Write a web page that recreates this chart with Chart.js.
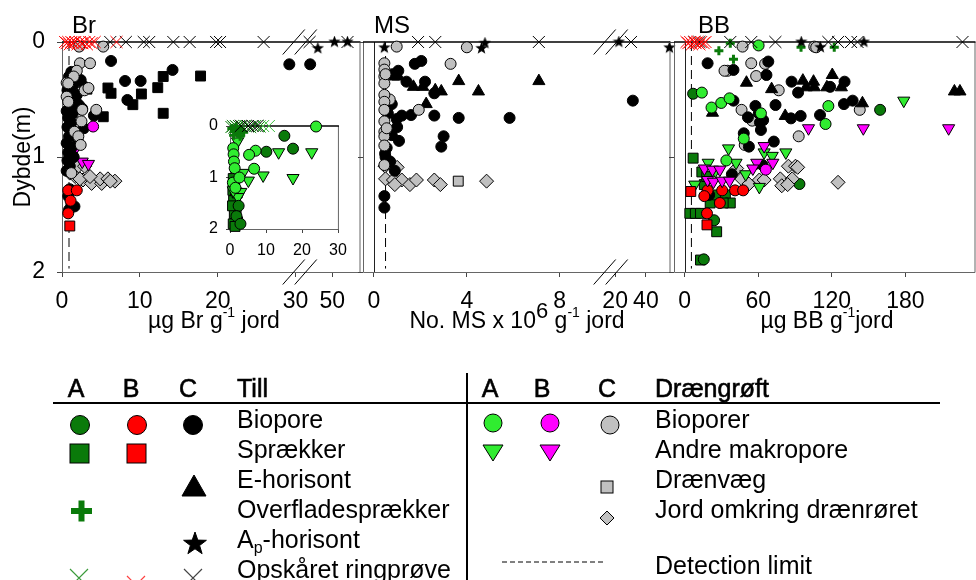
<!DOCTYPE html>
<html lang="da">
<head>
<meta charset="UTF-8">
<title>Br, MS og BB i makroporer</title>
<script src="https://cdn.jsdelivr.net/npm/chart.js@4.4.1/dist/chart.umd.min.js"></script>
<style>
  body { margin: 0; width: 976px; height: 580px; overflow: hidden; background: #fff; position: relative;
         font-family: 'Liberation Sans', Arial, sans-serif; }
  canvas { position: absolute; }
  #overlay { position: absolute; left: 0; top: 0; pointer-events: none; }
  #overlay text { font-family: 'Liberation Sans', Arial, sans-serif; fill: #000; }
  .ax { font-size: 23px; }
  .ttl { font-size: 24px; }
  .lg { font-size: 25px; }
  .hd { font-size: 25px; stroke: #000; stroke-width: 0.6px; }
</style>
</head>
<body>
<canvas id="brChart" width="370" height="340" style="left:0;top:0"></canvas>
<canvas id="msChart" width="350" height="340" style="left:330px;top:0"></canvas>
<canvas id="bbChart" width="345" height="340" style="left:640px;top:0"></canvas>
<canvas id="insetChart" width="175" height="165" style="left:180px;top:100px"></canvas>

<svg id="overlay" width="976" height="580">
  <!-- panel titles and axis titles -->
  <text class="ttl" x="72" y="33">Br</text>
  <text class="ttl" x="374" y="33">MS</text>
  <text class="ttl" x="698" y="33">BB</text>
  <text class="ax" transform="translate(30,157) rotate(-90)" text-anchor="middle">Dybde(m)</text>
  <text class="ax" x="214" y="328" text-anchor="middle">µg Br g<tspan dy="-11" font-size="14">-1</tspan><tspan dy="11"> jord</tspan></text>
  <text class="ax" x="517" y="328" text-anchor="middle">No. MS x 10<tspan dy="-10" font-size="22">6</tspan><tspan dy="10"> g</tspan><tspan dy="-11" font-size="14">-1</tspan><tspan dy="11"> jord</tspan></text>
  <text class="ax" x="827" y="328" text-anchor="middle">µg BB g<tspan dy="-11" font-size="14">-1</tspan><tspan dy="11">jord</tspan></text>

  <!-- legend table -->
  <text class="hd" x="76" y="397" text-anchor="middle">A</text>
  <text class="hd" x="131" y="397" text-anchor="middle">B</text>
  <text class="hd" x="188" y="397" text-anchor="middle">C</text>
  <text class="hd" x="237" y="397">Till</text>
  <text class="hd" x="490" y="397" text-anchor="middle">A</text>
  <text class="hd" x="542" y="397" text-anchor="middle">B</text>
  <text class="hd" x="607" y="397" text-anchor="middle">C</text>
  <text class="hd" x="655" y="397">Drængrøft</text>
  <line x1="53" y1="403" x2="940" y2="403" stroke="#000" stroke-width="2"/>
  <line x1="467" y1="373" x2="467" y2="580" stroke="#000" stroke-width="2"/>

  <text class="lg" x="237" y="428">Biopore</text>
  <text class="lg" x="237" y="458">Sprækker</text>
  <text class="lg" x="237" y="488">E-horisont</text>
  <text class="lg" x="237" y="518">Overfladesprækker</text>
  <text class="lg" x="237" y="548">A<tspan dy="5" font-size="16">p</tspan><tspan dy="-5">-horisont</tspan></text>
  <text class="lg" x="237" y="578">Opskåret ringprøve</text>

  <text class="lg" x="655" y="428">Bioporer</text>
  <text class="lg" x="655" y="458">Andre makropore</text>
  <text class="lg" x="655" y="488">Drænvæg</text>
  <text class="lg" x="655" y="518">Jord omkring drænrøret</text>
  <text class="lg" x="655" y="574">Detection limit</text>

  <g stroke="#000" stroke-width="1">
    <circle cx="80" cy="425" r="9.5" fill="#0a7a0a"/>
    <circle cx="137" cy="425" r="9.5" fill="#ff0000"/>
    <circle cx="193" cy="425" r="9.5" fill="#000"/>
    <rect x="70" y="444" width="19" height="19" fill="#0a7a0a"/>
    <rect x="127" y="444" width="19" height="19" fill="#ff0000"/>
    <polygon points="194,475 206,496 182,496" fill="#000"/>
    <polygon points="195,532 197.8,540.1 206.4,540.3 199.6,545.5 202.1,553.7 195,548.8 187.9,553.7 190.4,545.5 183.6,540.3 192.2,540.1" fill="#000"/>
    <circle cx="493" cy="423" r="9" fill="#30ec30"/>
    <circle cx="550" cy="423" r="9" fill="#ff00ff"/>
    <circle cx="610" cy="425" r="9" fill="#c0c0c0"/>
    <polygon points="483,445 503,445 493,461" fill="#30ec30"/>
    <polygon points="540,445 560,445 550,461" fill="#ff00ff"/>
    <rect x="601" y="481" width="12" height="12" fill="#c0c0c0"/>
    <polygon points="607,511 614,518 607,525 600,518" fill="#c0c0c0"/>
  </g>
  <g fill="#0a7a0a">
    <rect x="71" y="508" width="21" height="6"/>
    <rect x="78.5" y="500.5" width="6" height="21"/>
  </g>
  <path d="M70,569 L88,587 M88,569 L70,587" stroke="#3a9a3a" stroke-width="1.2"/>
  <path d="M127,576 L145,594 M145,576 L127,594" stroke="#ff4040" stroke-width="1.2"/>
  <path d="M184,569 L202,587 M202,569 L184,587" stroke="#444" stroke-width="1.2"/>
  <line x1="502" y1="562" x2="603" y2="562" stroke="#000" stroke-width="1" stroke-dasharray="5,3"/>
</svg>

<script>
// ---- depth axis (m), shared by all panels ----
const depthTicks = [0, 1, 2];

// ---- Br panel (µg Br / g jord) ----
const brTicks = [0, 10, 20, 30, 50];
const brCrossB = [[0.4,0],[0.6,0.01],[0.8,0],[1.0,0.02],[1.2,0],[1.4,0.01],[1.7,0],[2.0,0.02],[2.3,0],[2.6,0.01],[2.9,0],[3.2,0.02],[3.5,0],[3.8,0.01],[4.2,0],[7.0,0]];
const brCrossC = [[6.2,0],[8.2,0],[10.5,0],[11.2,0],[14.3,0],[16.4,0],[19.8,0],[20.3,0],[25.9,0],[42.0,0],[55.4,0]];
const brStarC = [[44.9,0.055],[50.8,0],[55.4,0]];
const brBioporeB = [[0.8,1.29],[1.9,1.29],[0.8,1.49],[1.1,1.38]];
const brSprakkerB = [[1.0,1.6]];
const brBioporeC = [[6.3,0.165],[14.2,0.243],[8.1,0.339],[10.1,0.339],[8.4,0.504],[29.2,0.194],[42.2,0.194],
  [2.4,0.33],[2.9,0.39],[1.2,0.26],[0.9,0.30],[1.5,0.37],[0.7,0.42],[1.2,0.45],[0.8,0.50],[1.8,0.52],[1.0,0.56],
  [0.6,0.60],[1.4,0.62],[2.6,0.58],[4.1,0.64],[0.8,0.66],[1.2,0.70],[2.8,0.75],[0.7,0.74],[1.6,0.78],[0.9,0.82],
  [2.0,0.85],[0.6,0.88],[1.2,0.92],[0.8,0.96],[1.5,1.0],[0.7,1.03],[1.0,1.08],[0.6,1.12],[1.9,0.46],[2.2,0.55],
  [1.0,1.28],[0.8,1.34],[1.2,1.42],[1.6,1.43],[0.9,1.46]];
const brSprakkerC = [[17.8,0.296],[13.0,0.30],[12.3,0.397],[10.2,0.452],[5.9,0.40],[6.3,0.446],[9.1,0.545],[13.0,0.62],[5.3,0.65],[3.2,0.41]];
const brDrenBioporeB = [[4.0,0.735]];
const brMakroB = [[1.9,0.91],[2.6,1.04],[3.4,1.06]];
const brDrenBioporeC = [[2.2,0.04],[5.3,0.04],[2.3,0.185],[3.6,0.185],[1.9,0.25],[1.5,0.30],[0.6,0.354],[0.8,0.36],
  [2.9,0.42],[3.4,0.40],[0.6,0.475],[0.8,0.52],[2.6,0.59],[4.4,0.59],[2.5,0.69],[1.6,0.78],[2.1,0.82],[2.4,0.895],[1.2,1.14]];
const brJordC = [[1.0,1.14],[2.1,1.08],[2.9,1.08],[1.7,1.17],[2.7,1.20],[3.8,1.23],[5.1,1.23],[4.9,1.19],[5.9,1.19],
  [6.8,1.21],[2.3,1.19],[3.6,1.17],[6.2,1.21]];
const brDetection = 0.9;

// ---- Br, A-profile (inset) ----
const insetTicks = [0, 10, 20, 30];
const insetCrossA = [[0.4,0.02],[0.8,0],[1.2,0.03],[1.6,0],[2.0,0.02],[2.5,0],[3.3,0.01],[4.3,0],[5.6,0.02],[7.0,0],[8.2,0.01]];
const insetCrossA2 = [[9.2,0],[10.8,0]];
const insetCrossC = [[3.0,0],[5.0,0],[6.3,0],[7.6,0]];
const insetPlusA = [[0.5,0.05],[1.2,0.10],[1.8,0.04],[2.4,0.14],[3.0,0.08],[3.8,0.12],[1.0,0.18],[2.8,0.2]];
const insetBioporeA = [[15.1,0.19],[17.5,0.44],[10.1,0.50],[2.4,1.55],[1.8,1.75],[2.9,1.9]];
const insetSprakkerA = [[0.9,1.02],[1.3,1.12],[0.8,1.25],[1.5,1.35],[1.0,1.45],[1.7,1.6],[1.2,1.7],[2.1,1.86],[0.9,1.9],[1.4,1.95],[0.7,1.55],[2.0,1.3]];
const insetDrenBioporeA = [[23.9,0.01],[7.1,0.48],[5.3,0.56],[6.7,0.83],[0.9,0.43],[1.0,0.55],[1.1,0.69],[1.3,0.82],[0.8,1.1],[1.5,1.2],[2.6,1.0]];
const insetMakroA = [[13.5,0.51],[22.7,0.51],[9.2,0.96],[17.5,1.01],[2.1,0.30],[3.6,0.91],[5.1,1.06],[3.0,1.28],[1.2,1.15],[2.2,1.38],[0.9,1.25]];

// ---- MS panel (antal x 10^6 / g jord) ----
const msTicks = [0, 4, 8, 20, 40];
const msCrossC = [[1.9,0],[2.64,0],[7.1,0],[30.3,0]];
const msStarC = [[0.45,0.05],[4.63,0.055],[4.78,0.01],[22.4,0],[55.3,0.05]];
const msBioporeC = [[1.76,0.19],[2.04,0.165],[1.05,0.25],[0.8,0.28],[1.4,0.345],[2.2,0.345],[2.6,0.446],[0.77,0.54],
  [0.98,0.67],[1.2,0.64],[1.6,0.635],[2.6,0.64],[3.65,0.66],[5.84,0.66],[1.0,0.74],[0.77,0.81],[1.08,0.86],[3.0,0.82],
  [2.9,0.91],[0.48,0.97],[0.5,1.0],[0.7,1.04],[0.45,1.34],[0.45,1.44],[31.5,0.51],[0.6,0.62],[0.55,0.92],[0.9,1.12]];
const msEhorisontC = [[1.7,0.39],[2.1,0.39],[2.64,0.42],[2.9,0.43],[3.65,0.34],[4.5,0.43],[7.1,0.34],[2.25,0.54],[0.84,0.3],[1.05,0.3]];
const msDrenBioporeC = [[0.98,0.04],[4.0,0.046],[3.3,0.19],[1.93,0.59],[0.45,0.185],[0.45,0.24],[0.45,0.30],[0.45,0.36],
  [0.68,0.50],[0.45,0.46],[0.45,0.52],[0.45,0.59],[0.45,0.69],[0.45,0.78],[0.45,0.82],[0.45,0.90],[0.45,1.07],[0.5,0.28],[0.55,0.75]];
const msJordC = [[0.48,1.08],[1.0,1.09],[0.5,1.19],[0.84,1.2],[1.2,1.2],[0.9,1.24],[1.55,1.24],[1.83,1.2],[2.6,1.2],[2.86,1.24],[4.85,1.21]];
const msDrenvaegC = [[3.63,1.21]];
const msDetection = 0.5;

// ---- BB panel (µg BB / g jord) ----
const bbTicks = [0, 60, 120, 180];
const bbCrossB = [[1.5,0],[3,0.01],[4.5,0],[6,0.02],[7.5,0],[9,0.01],[10.5,0],[12,0.02],[13.5,0],[15.5,0.01],[17,0]];
const bbCrossC = [[8,0],[12,0],[37.2,0],[54.3,0],[74,0],[117.2,0],[125.1,0],[135.7,0],[141,0],[226.6,0]];
const bbStarC = [[95.1,0],[110.7,0.046],[146.2,0]];
const bbPlusA = [[27.9,0.075],[39.8,0.15],[94.9,0.046],[122,0.046],[37.2,0.01]];
const bbBioporeA = [[6.9,0.45],[159.4,0.59],[93.6,1.235],[24,1.55],[15.6,1.89]];
const bbSprakkerA = [[6.9,1.01],[16,1.24],[20.8,1.40],[26.6,1.33],[33.2,1.33],[37.2,1.40],[31.4,1.40],[4.2,1.49],
  [8.7,1.49],[12.9,1.49],[26.1,1.65],[12.9,1.896],[14,1.13],[18,1.17]];
const bbBioporeB = [[18.7,1.29],[16,1.34],[30.6,1.29],[28.7,1.40],[41.1,1.29],[47.7,1.29],[18.2,1.49]];
const bbSprakkerB = [[5,1.30],[18.2,1.59]];
const bbBioporeC = [[18.7,0.185],[39.8,0.243],[66.7,0.287],[68.2,0.17],[87.2,0.345],[92.5,0.44],[130.4,0.345],[118.6,0.39],
  [39.8,0.51],[57.7,0.556],[51.6,0.655],[61.4,0.70],[62.2,0.765],[74.1,0.548],[86.7,0.664],[94.6,0.643],[110.4,0.635],
  [129.9,0.54],[137,0.51],[48.2,0.794],[52.4,0.91],[72.7,0.866],[63.5,1.07],[38.5,1.15],[20,1.33],[60.5,0.62],[64,0.68]];
const bbEhorisontC = [[50.4,0.354],[70.9,0.41],[96.4,0.336],[105.1,0.345],[99.1,0.394],[105.7,0.394],[120.4,0.287],
  [127.8,0.394],[116,0.394],[22.7,0.615],[82,0.643],[145,0.533],[220,0.43],[224.5,0.43]];
const bbDrenBioporeA = [[60.3,0.03],[14,0.44],[21.9,0.57],[29.8,0.53],[36.6,0.49],[62.2,0.62],[114.9,0.713],[117.2,0.557],[48.2,0.84],[34,1.03]];
const bbMakroA = [[35.8,0.925],[64.8,0.96],[71.4,0.99],[82.5,0.96],[19.2,1.05],[41.9,1.05],[49.8,1.15],[60.9,1.26],[8.2,1.24],[178.7,0.51],[25,1.12]];
const bbDrenBioporeB = [[66.2,1.11]];
const bbMakroB = [[101,0.75],[145.7,0.75],[215.3,0.75],[64.8,0.905],[16.1,1.1],[22.7,1.11],[28.7,1.11],[58.8,1.05],
  [71.9,1.05],[55.6,1.10],[18.7,1.2],[23.5,1.215],[30.6,1.206],[36.6,1.206]];
const bbDrenBioporeC = [[47.2,0.04],[105.7,0.04],[107.3,0.046],[35,0.25],[54.3,0.185],[58.3,0.296],[65.6,0.19],[76.7,0.42],
  [46.4,0.59],[55.1,0.684],[93,0.82],[49,0.895],[142.8,0.59],[32.5,0.25]];
const bbJordC = [[42.4,1.10],[46.4,1.19],[52.4,1.235],[60.9,1.2],[64.8,1.2],[78,1.19],[79.2,1.25],[84.6,1.08],[90.4,1.08],
  [87.7,1.19],[84,1.24],[125.1,1.22],[92.2,1.09]];
const bbDetection = 5.5;

// ---- colours ----
const GREEN_DARK = '#0a7a0a', GREEN = '#30ec30', RED = '#ff0000', MAGENTA = '#ff00ff', GRAY = '#c0c0c0';
const FONT = "'Liberation Sans', Arial, sans-serif";
Chart.defaults.font.family = FONT;

// linear scale with a broken section: anchors are [value, fraction of axis length]
class BrokenScale extends Chart.LinearScale {
  buildTicks() {
    return this.options.tickValues.map(value => ({ value }));
  }
  getPixelForValue(value) {
    const a = this.options.anchors;
    let i = 1;
    while (i < a.length - 1 && value > a[i][0]) i++;
    const [v0, f0] = a[i - 1], [v1, f1] = a[i];
    return this.getPixelForDecimal(f0 + (value - v0) / (v1 - v0) * (f1 - f0));
  }
  getValueForPixel(pixel) {
    const a = this.options.anchors;
    const f = this.getDecimalForPixel(pixel);
    let i = 1;
    while (i < a.length - 1 && f > a[i][1]) i++;
    const [v0, f0] = a[i - 1], [v1, f1] = a[i];
    return v0 + (f - f0) / (f1 - f0) * (v1 - v0);
  }
}
BrokenScale.id = 'broken';
BrokenScale.defaults = {};
Chart.register(BrokenScale);

// filled five-point star used for the Ap-horisont points
const starImg = (() => {
  const c = document.createElement('canvas');
  c.width = c.height = 13;
  const g = c.getContext('2d');
  g.fillStyle = '#000';
  g.beginPath();
  for (let i = 0; i < 10; i++) {
    const r = i % 2 ? 2.7 : 6.5, a = -Math.PI / 2 + i * Math.PI / 5;
    g.lineTo(6.5 + r * Math.cos(a), 6.5 + r * Math.sin(a));
  }
  g.closePath();
  g.fill();
  return c;
})();

const MARKS = {
  circle: fill => ({ pointStyle: 'circle', pointRadius: 5.5, pointBackgroundColor: fill }),
  square: fill => ({ pointStyle: 'rect', pointRadius: 7, pointBackgroundColor: fill }),
  triUp: fill => ({ pointStyle: 'triangle', pointRadius: 7, pointBackgroundColor: fill }),
  triDown: fill => ({ pointStyle: 'triangle', pointRadius: 7, pointRotation: 180, pointBackgroundColor: fill }),
  diamond: fill => ({ pointStyle: 'rectRot', pointRadius: 7, pointBackgroundColor: fill }),
  cross: color => ({ pointStyle: 'crossRot', pointRadius: 8.5, pointBorderColor: color, pointBorderWidth: 1 }),
  plus: color => ({ pointStyle: 'cross', pointRadius: 4.5, pointBorderColor: color, pointBorderWidth: 3 }),
  star: () => ({ pointStyle: starImg, pointRadius: 6 })
};

function series(points, mark, color) {
  return Object.assign({
    data: points.map(([x, y]) => ({ x, y })),
    clip: false,
    pointBorderColor: '#000',
    pointBorderWidth: 1
  }, MARKS[mark](color));
}

function detectionLine(x) {
  return {
    data: [{ x, y: 0 }, { x, y: 1.97 }],
    showLine: true, clip: false, pointRadius: 0,
    borderColor: '#000', borderWidth: 1, borderDash: [9, 5]
  };
}

// box, depth-0 line, zero line and axis-break slashes
const panelFrame = {
  id: 'panelFrame',
  beforeDatasetsDraw(chart, args, opts) {
    const { ctx, chartArea: a, scales: { x } } = chart;
    ctx.save();
    ctx.strokeStyle = '#666';
    ctx.lineWidth = 1;
    ctx.beginPath();
    ctx.moveTo(a.left + 0.5, a.top);
    ctx.lineTo(a.left + 0.5, a.bottom + 0.5);
    ctx.lineTo(a.right - 0.5, a.bottom + 0.5);
    ctx.lineTo(a.right - 0.5, a.top);
    ctx.stroke();
    if (opts.zeroLine) {
      const px = Math.round(x.getPixelForValue(0)) + 0.5;
      ctx.strokeStyle = '#222';
      ctx.beginPath();
      ctx.moveTo(px, a.top);
      ctx.lineTo(px, a.bottom);
      ctx.stroke();
    }
    ctx.strokeStyle = '#000';
    ctx.lineWidth = 1.5;
    ctx.beginPath();
    ctx.moveTo(a.left, a.top);
    ctx.lineTo(a.right, a.top);
    ctx.stroke();
    ctx.restore();
  },
  afterDatasetsDraw(chart, args, opts) {
    if (!opts.breakAt) return;
    const { ctx, chartArea: a, scales: { x } } = chart;
    const [lo, hi] = opts.breakAt;
    const cx = (x.getPixelForValue(lo) + x.getPixelForValue(hi)) / 2;
    ctx.save();
    ctx.strokeStyle = '#000';
    ctx.lineWidth = 1;
    ctx.beginPath();
    [a.top, a.bottom].forEach(yy => {
      [-6, 6].forEach(dx => {
        ctx.moveTo(cx + dx - 11, yy + 12.5);
        ctx.lineTo(cx + dx + 11, yy - 12.5);
      });
    });
    ctx.stroke();
    ctx.restore();
  }
};

function tickStyle(size, padding, show) {
  return { display: show, autoSkip: false, maxRotation: 0, padding, color: '#000', font: { size }, callback: v => String(v) };
}
const gridStyle = len => ({ drawOnChartArea: false, tickLength: len, tickColor: '#444' });

function depthAxis(width, show, size, padding, len) {
  return {
    type: 'linear', reverse: true, min: 0, max: 2,
    afterBuildTicks: s => { s.ticks = depthTicks.map(value => ({ value })); },
    afterFit: s => { s.width = width; },
    grid: gridStyle(len), border: { display: false },
    ticks: tickStyle(size, padding, show)
  };
}

function valueAxis(height, min, max, ticks, anchors, size, padding, len) {
  const axis = {
    type: anchors ? 'broken' : 'linear', min, max,
    afterFit: s => { s.height = height; },
    grid: gridStyle(len), border: { display: false },
    ticks: tickStyle(size, padding, true)
  };
  if (anchors) Object.assign(axis, { anchors, tickValues: ticks });
  else axis.afterBuildTicks = s => { s.ticks = ticks.map(value => ({ value })); };
  return axis;
}

function panel(id, datasets, x, y, padding, frame) {
  return new Chart(document.getElementById(id), {
    type: 'scatter',
    data: { datasets },
    options: {
      responsive: false, animation: false, events: [],
      layout: { padding },
      plugins: { legend: { display: false }, tooltip: { enabled: false }, panelFrame: frame },
      scales: { x, y }
    },
    plugins: [panelFrame]
  });
}

// Br
panel('brChart', [
  series(brStarC, 'star'),
  series(brCrossB, 'cross', RED),
  series(brCrossC, 'cross', '#000'),
  series(brDrenBioporeB, 'circle', MAGENTA),
  series(brDrenBioporeC, 'circle', GRAY),
  series(brBioporeB, 'circle', RED),
  series(brSprakkerB, 'square', RED),
  series(brBioporeC, 'circle', '#000'),
  series(brSprakkerC, 'square', '#000'),
  series(brMakroB, 'triDown', MAGENTA),
  series(brJordC, 'diamond', GRAY),
  detectionLine(brDetection)
],
  valueAxis(68, 0, 60, brTicks, [[0, 0], [30, 0.7824], [40, 0.8106], [60, 1]], 23, 11, 5),
  depthAxis(62, true, 23, 12, 5),
  { top: 42, right: 7, left: 0, bottom: 0 },
  { zeroLine: false, breakAt: [30, 40] });

// Br inset, A-profile
panel('insetChart', [
  series(insetCrossC, 'cross', '#000'),
  series(insetCrossA2, 'cross', '#3fbf3f'),
  series(insetCrossA, 'cross', GREEN_DARK),
  series(insetPlusA, 'plus', GREEN_DARK),
  series(insetDrenBioporeA, 'circle', GREEN),
  series(insetBioporeA, 'circle', GREEN_DARK),
  series(insetMakroA, 'triDown', GREEN),
  series(insetSprakkerA, 'square', GREEN_DARK)
],
  valueAxis(36, 0, 30.25, insetTicks, null, 16, 8, 4),
  depthAxis(50, true, 16, 8, 4),
  { top: 26, right: 7, left: 0, bottom: 0 },
  { zeroLine: false });

// MS
panel('msChart', [
  series(msStarC, 'star'),
  series(msCrossC, 'cross', '#000'),
  series(msDrenBioporeC, 'circle', GRAY),
  series(msBioporeC, 'circle', '#000'),
  series(msEhorisontC, 'triUp', '#000'),
  series(msDrenvaegC, 'square', GRAY),
  series(msJordC, 'diamond', GRAY),
  detectionLine(msDetection)
],
  valueAxis(68, -0.47, 56, msTicks, [[-0.47, 0], [10, 0.791], [20, 0.820], [40, 0.920], [56, 1]], 23, 11, 5),
  depthAxis(33, false, 23, 12, 5),
  { top: 42, right: 6, left: 0, bottom: 0 },
  { zeroLine: true, breakAt: [10, 20] });

// BB
panel('bbChart', [
  series(bbStarC, 'star'),
  series(bbCrossB, 'cross', RED),
  series(bbCrossC, 'cross', '#000'),
  series(bbPlusA, 'plus', GREEN_DARK),
  series(bbDrenBioporeB, 'circle', MAGENTA),
  series(bbMakroB, 'triDown', MAGENTA),
  series(bbBioporeB, 'circle', RED),
  series(bbSprakkerB, 'square', RED),
  series(bbDrenBioporeA, 'circle', GREEN),
  series(bbMakroA, 'triDown', GREEN),
  series(bbBioporeC, 'circle', '#000'),
  series(bbEhorisontC, 'triUp', '#000'),
  series(bbDrenBioporeC, 'circle', GRAY),
  series(bbJordC, 'diamond', GRAY),
  series(bbBioporeA, 'circle', GREEN_DARK),
  series(bbSprakkerA, 'square', GREEN_DARK),
  detectionLine(bbDetection)
],
  valueAxis(68, -8.7, 237.2, bbTicks, null, 23, 11, 5),
  depthAxis(34, false, 23, 12, 5),
  { top: 42, right: 0, left: 0, bottom: 0 },
  { zeroLine: true });
</script>
</body>
</html>
